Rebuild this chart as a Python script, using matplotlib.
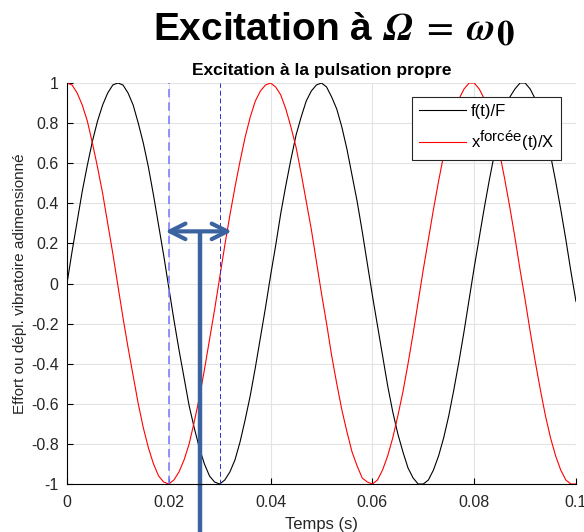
import matplotlib
matplotlib.use('Agg')
import matplotlib.pyplot as plt
import matplotlib._mathtext as mathtext_internals
import numpy as np

plt.rcParams['font.family'] = ['Liberation Sans', 'DejaVu Sans']
plt.rcParams['mathtext.fontset'] = 'custom'
plt.rcParams['mathtext.rm'] = 'Liberation Sans'
plt.rcParams['mathtext.it'] = 'Liberation Sans:italic'
# exposants plus grands, comme dans la figure d'origine
mathtext_internals.SHRINK_FACTOR = 0.9

# temps (s), pas de 1 ms
t = np.arange(0, 101) / 1000.0

# effort f(t)/F
force = [0.00, 0.16, 0.31, 0.46, 0.59, 0.71, 0.81, 0.89, 0.95, 0.99,
         1.00, 0.99, 0.95, 0.89, 0.80, 0.70, 0.58, 0.44, 0.29, 0.14,
         -0.02, -0.18, -0.33, -0.47, -0.61, -0.72, -0.82, -0.90, -0.96, -0.99,
         -1.00, -0.98, -0.94, -0.88, -0.79, -0.68, -0.56, -0.42, -0.27, -0.12,
         0.04, 0.19, 0.35, 0.49, 0.62, 0.74, 0.83, 0.91, 0.96, 0.99,
         1.00, 0.98, 0.93, 0.87, 0.78, 0.67, 0.54, 0.41, 0.26, 0.10,
         -0.06, -0.21, -0.36, -0.51, -0.64, -0.75, -0.84, -0.92, -0.97, -1.00,
         -1.00, -0.98, -0.93, -0.86, -0.77, -0.66, -0.53, -0.39, -0.24, -0.08,
         0.08, 0.23, 0.38, 0.52, 0.65, 0.76, 0.85, 0.93, 0.97, 1.00,
         1.00, 0.97, 0.92, 0.85, 0.75, 0.64, 0.51, 0.37, 0.22, 0.06,
         -0.09]

# deplacement force x(t)/X
depl = [1.00, 0.99, 0.95, 0.89, 0.81, 0.70, 0.58, 0.45, 0.30, 0.15,
        -0.01, -0.17, -0.32, -0.46, -0.60, -0.72, -0.82, -0.90, -0.96, -0.99,
        -1.00, -0.98, -0.94, -0.88, -0.80, -0.69, -0.57, -0.43, -0.28, -0.13,
        0.03, 0.19, 0.34, 0.48, 0.61, 0.73, 0.83, 0.91, 0.96, 0.99,
        1.00, 0.98, 0.94, 0.87, 0.78, 0.68, 0.55, 0.41, 0.27, 0.11,
        -0.05, -0.20, -0.36, -0.50, -0.63, -0.74, -0.84, -0.91, -0.97, -0.99,
        -1.00, -0.98, -0.93, -0.86, -0.77, -0.66, -0.54, -0.40, -0.25, -0.09,
        0.07, 0.22, 0.37, 0.51, 0.64, 0.76, 0.85, 0.92, 0.97, 1.00,
        1.00, 0.97, 0.92, 0.85, 0.76, 0.65, 0.52, 0.38, 0.23, 0.07,
        -0.08, -0.24, -0.39, -0.53, -0.66, -0.77, -0.86, -0.93, -0.98, -1.00,
        -1.00]

xticks = [0, 0.02, 0.04, 0.06, 0.08, 0.1]
xticklabels = ['0', '0.02', '0.04', '0.06', '0.08', '0.1']
yticks = [-1, -0.8, -0.6, -0.4, -0.2, 0, 0.2, 0.4, 0.6, 0.8, 1]
yticklabels = ['-1', '-0.8', '-0.6', '-0.4', '-0.2', '0', '0.2', '0.4', '0.6', '0.8', '1']

# repères de déphasage
t_depl_min = 0.02
t_force_min = 0.03
arrow_t = [0.0193, 0.0324]
arrow_y = 0.26
stem_t = 0.0261
stem_bottom = -1.24

fig = plt.figure(figsize=(5.84, 5.32), dpi=100)
ax = fig.add_axes([0.1147, 0.0902, 0.8716, 0.7538])

ax.plot(t, force, color='black', lw=0.8, label='f(t)/F')
ax.plot(t, depl, color='red', lw=0.8, label=r'x$^{\mathrm{forcée}}$(t)/X')

ax.plot([t_depl_min, t_depl_min], [-1, 1], color='#7f7fff', lw=1.2, ls=(0, (5, 3)))
ax.plot([t_force_min, t_force_min], [-1, 1], color='#2b2bd6', lw=0.7, ls=(0, (5, 3)))

ax.annotate('', xy=(arrow_t[0], arrow_y), xytext=(arrow_t[1], arrow_y),
            arrowprops=dict(arrowstyle='<->', color='#3b63a0', lw=3, mutation_scale=28,
                            shrinkA=0, shrinkB=0))
ax.plot([stem_t, stem_t], [arrow_y, stem_bottom], color='#3b63a0', lw=3.2,
        clip_on=False, solid_capstyle='butt')

ax.set_xlim(0, 0.1)
ax.set_ylim(-1, 1)
ax.set_xticks(xticks)
ax.set_xticklabels(xticklabels)
ax.set_yticks(yticks)
ax.set_yticklabels(yticklabels)
ax.tick_params(direction='in', labelsize=11.5, labelcolor='#262626', length=4, width=0.8)
ax.tick_params(axis='x', pad=8)
ax.tick_params(axis='y', pad=6)
ax.grid(True, color='#e3e3e3', lw=0.8)
ax.set_axisbelow(True)
ax.spines['right'].set_visible(False)
ax.spines['top'].set_visible(False)

ax.set_xlabel('Temps (s)', fontsize=12, color='#262626', labelpad=5)
ax.set_ylabel('Effort ou dépl. vibratoire adimensionné', fontsize=11, color='#262626', labelpad=3)
ax.set_title('Excitation à la pulsation propre', fontsize=12.5, fontweight='bold', pad=6)

leg = ax.legend(loc='upper right', bbox_to_anchor=(0.9705, 0.965), borderaxespad=0,
                fontsize=12, handlelength=2.8, fancybox=False, framealpha=1,
                edgecolor='#262626', borderpad=0.4, labelspacing=0.6, handletextpad=0.3)
leg.get_frame().set_linewidth(0.8)

fig.text(0.572, 0.944, r'Excitation à $\mathbfit{\Omega}\;=\;\mathbfit{\omega}_\mathbf{0}$',
         ha='center', va='center', fontsize=28, fontweight='bold', math_fontfamily='stix')

fig.savefig('out.png', dpi=100)
